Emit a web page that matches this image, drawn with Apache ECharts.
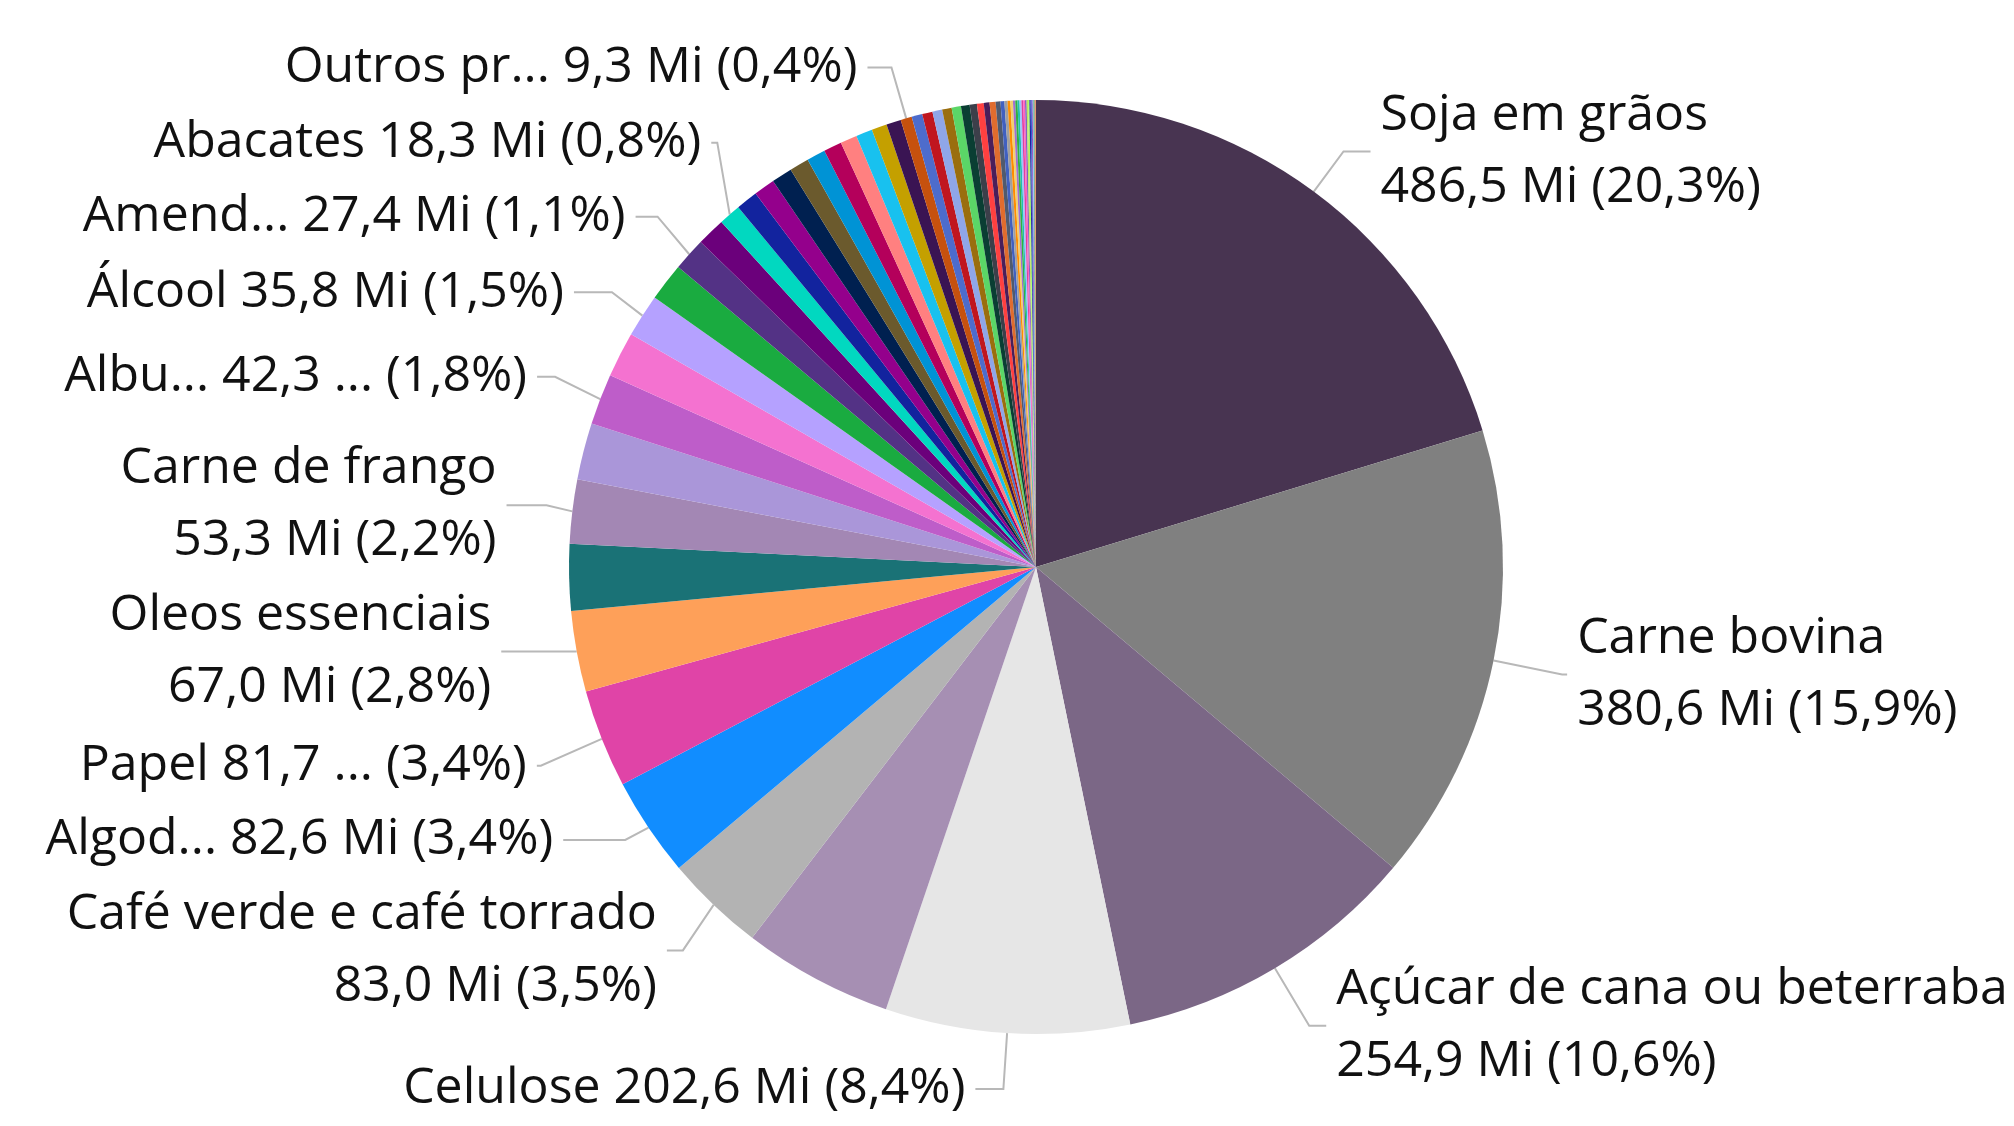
<!DOCTYPE html>
<html>
<head>
<meta charset="utf-8">
<script src="https://cdn.jsdelivr.net/npm/echarts@6/dist/echarts.min.js"></script>
<style>
    html, body { margin: 0; padding: 0; background: #fff; }
    #pie { width: 2014px; height: 1126px; }
</style>
</head>
<body>
<div id="pie"></div>
<script>
    // slices clockwise from 12 o'clock, sorted by value (Mi)
    // '' = slice drawn without a label
    const names = [
        'Soja em grãos', 'Carne bovina', 'Açúcar de cana ou beterraba', 'Celulose', '',
        'Café verde e café torrado', 'Algod...', 'Papel', 'Oleos essenciais', '',
        'Carne de frango', '', 'Albu...', '', 'Álcool', '', 'Amend...', '', 'Abacates',
        '', '', '', '', '', '', '', '', '', '',
        'Outros pr...', '', '', '', '', '', '', '', '', '',
        '', '', '', '', '', '', '', '', '', '', '', '', '', '', '', '', '', '', '', '', '', '', '', ''
    ];
    const values = [
        486.5, 380.6, 254.9, 202.6, 124.5,
        83.0, 82.6, 81.7, 67.0, 55.0,
        53.3, 47.0, 42.3, 37.6, 35.8, 31.6, 27.4, 23.6, 18.3,
        18.0, 17.6, 17.2, 16.1, 15.5, 15.0, 13.9, 13.6, 12.7, 12.2,
        9.3, 8.9, 8.6, 8.1, 7.9, 7.7, 7.2, 6.0, 5.6, 4.8,
        5.0, 4.0, 3.2, 2.6, 2.3, 2.1, 1.9, 1.8, 1.7, 1.6, 1.5, 1.4, 1.3, 1.2, 1.1, 1.0, 0.9, 0.8, 0.7, 0.6, 0.5, 0.4, 0.3, 0.2
    ];
    // labels broken over two lines / labels whose unit got cut
    const twoLine = ['Soja em grãos', 'Carne bovina', 'Açúcar de cana ou beterraba', 'Carne de frango', 'Oleos essenciais', 'Café verde e café torrado'];
    const unitCut = ['Albu...', 'Papel'];

    const palette = [
        '#483451', '#808080', '#7b6786', '#e6e6e6', '#a68fb3',
        '#b3b3b3', '#118dff', '#e044a7', '#fea059', '#1a7276',
        '#a387b4', '#aa96d9', '#be5dc9', '#f472d0', '#b5a1ff', '#1aab40', '#533285', '#6b007b', '#01d8c0',
        '#12239e', '#94008c', '#002050', '#6b5a2d', '#0093d5', '#b4005b', '#ff8080', '#18c1ef', '#c4a000', '#3a1453',
        '#c6510e', '#4d6ccc', '#c0161f', '#8fa6e8', '#9a6e0e', '#5bd667', '#0a3e33', '#3c3f4a', '#ff4040', '#4a1e5a',
        '#e06c2e', '#505a6e', '#4060c0', '#a0a0a0', '#ff8c00', '#f0d070', '#a070d0', '#30b040', '#20c0b0', '#a0c0ff',
        '#e040a0', '#ff60c0', '#8060c0', '#c0e060', '#a0ff60', '#2020a0', '#3060d0', '#9040c0', '#80d0ff', '#40a040',
        '#909090', '#ff6f00', '#c2185b', '#cddc39'
    ];

    // leader line lengths per label [length, length2]
    const leader = {
        'Soja em grãos': [50, 27],
        'Carne bovina': [70, 5],
        'Açúcar de cana ou beterraba': [67, 17],
        'Celulose': [60, 28],
        'Café verde e café torrado': [66, 16],
        'Algod...': [26, 62],
        'Papel': [79, 4],
        'Oleos essenciais': [10, 74],
        'Carne de frango': [36, 40],
        'Albu...': [60, 18],
        'Álcool': [43, 38],
        'Amend...': [56, 22],
        'Abacates': [95, 6],
        'Outros pr...': [53, 24]
    };

    const total = values.reduce((a, b) => a + b, 0);
    const fmt = (v, d) => v.toFixed(d).replace('.', ',');

    const myChart = echarts.init(document.getElementById('pie'));
    myChart.setOption({
        animation: false,
        color: palette,
        series: [{
            type: 'pie',
            center: [1036, 567],
            radius: 467,
            startAngle: 90,
            clockwise: true,
            avoidLabelOverlap: true,
            minShowLabelAngle: 0,
            itemStyle: { borderWidth: 0 },
            emphasis: { disabled: true },
            label: {
                position: 'outside',
                fontFamily: 'Open Sans',
                fontSize: 50,
                lineHeight: 72,
                color: '#111',
                overflow: 'none',
                distanceToLabelLine: 10,
                formatter: function (p) {
                    const val = fmt(p.value, 1) + (unitCut.includes(p.name) ? ' ...' : ' Mi');
                    const pct = '(' + fmt(p.value / total * 100, 1) + '%)';
                    const sep = twoLine.includes(p.name) ? '\n' : ' ';
                    return p.name + sep + val + ' ' + pct;
                }
            },
            labelLine: {
                length: 42,
                length2: 26,
                lineStyle: { color: '#b8b8b8', width: 2 }
            },
            data: values.map((v, i) => {
                const shown = names[i] !== '';
                const item = {
                    name: names[i],
                    value: v,
                    label: { show: shown },
                    labelLine: { show: shown }
                };
                if (leader[names[i]]) {
                    item.labelLine.length = leader[names[i]][0];
                    item.labelLine.length2 = leader[names[i]][1];
                }
                return item;
            })
        }]
    });
</script>
</body>
</html>
